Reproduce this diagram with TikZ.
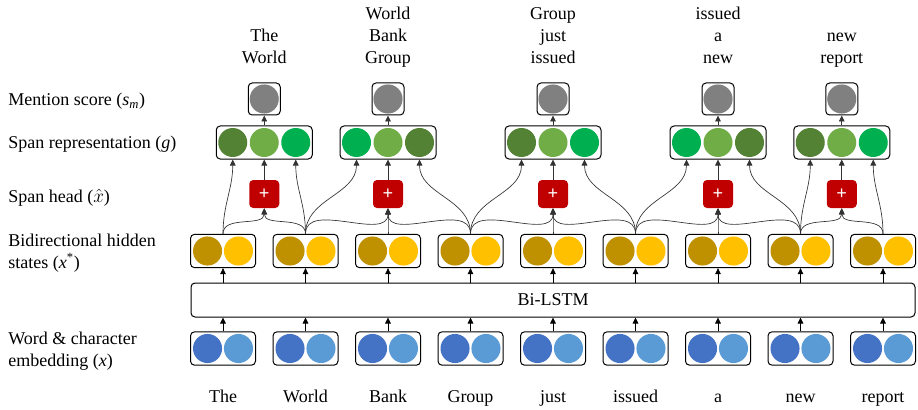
\documentclass[tikz,border=0pt]{standalone}
\usepackage{fontspec}
\setmainfont{Liberation Serif}
\usetikzlibrary{arrows.meta}
\definecolor{emb_dark}{RGB}{68,114,196}
\definecolor{emb_light}{RGB}{91,155,213}
\definecolor{hid_dark}{RGB}{191,144,0}
\definecolor{hid_light}{RGB}{255,192,0}
\definecolor{span_dark}{RGB}{84,130,53}
\definecolor{span_mid}{RGB}{112,173,71}
\definecolor{span_bright}{RGB}{0,176,80}
\definecolor{head_red}{RGB}{192,0,0}
\definecolor{score_gray}{RGB}{128,128,128}
\definecolor{edge_gray}{RGB}{50,50,50}

\begin{document}
\begin{tikzpicture}[x=0.75pt,y=-0.75pt,->,>={Triangle[length=4.5pt,width=4.2pt]},
    line width=0.5pt,font=\fontsize{13.5pt}{16.5pt}\selectfont]
    \tikzstyle{label}=[text=black,inner sep=0pt]
    \tikzstyle{box}=[draw,rounded corners=3pt,line width=0.75pt,inner sep=0pt,fill=white]
    \tikzstyle{pair}=[style=box,minimum width=48.75pt,minimum height=25pt]
    \tikzstyle{embpair}=[style=pair,path picture={
        \fill[emb_dark] ([xshift=-11.6pt]path picture bounding box.center) circle[radius=10.9pt];
        \fill[emb_light] ([xshift=11.6pt]path picture bounding box.center) circle[radius=10.9pt];}]
    \tikzstyle{hidpair}=[style=pair,path picture={
        \fill[hid_dark] ([xshift=-11.6pt]path picture bounding box.center) circle[radius=10.9pt];
        \fill[hid_light] ([xshift=11.6pt]path picture bounding box.center) circle[radius=10.9pt];}]
    \tikzstyle{spanbox}=[style=box,minimum width=72pt,minimum height=24.75pt]
    \tikzstyle{dot}=[circle,inner sep=0pt,minimum size=21.75pt]
    \tikzstyle{scorebox}=[style=box,minimum size=24pt,path picture={
        \fill[score_gray] (path picture bounding box.center) circle[radius=10.9pt];}]
    \tikzstyle{headbox}=[fill=head_red,rounded corners=3pt,minimum width=22.5pt,minimum height=21pt,
        inner sep=0pt,text=white,font=\fontsize{14pt}{16pt}\selectfont\bfseries]

    \useasboundingbox (0,0) rectangle (918,410);

    % left labels
    \node[label,anchor=base west] (lab_s) at (8,106) {Mention score (\textit{s}\textsubscript{\textit{m}})};
    \node[label,anchor=base west] (lab_g) at (8,148) {Span representation (\textit{g})};
    \node[label,anchor=base west] (lab_h) at (8,202) {Span head ($\hat{x}$)};
    \node[label,anchor=base west,align=left] (lab_x) at (8,268) {Bidirectional hidden\\states (\textit{x}\textsuperscript{*})};
    \node[label,anchor=base west,align=left] (lab_e) at (8,366) {Word \& character\\embedding (\textit{x})};

    % embeddings
    \node[embpair] (e1) at (223,348.5)   {};
    \node[embpair] (e2) at (305.5,348.5) {};
    \node[embpair] (e3) at (388,348.5)   {};
    \node[embpair] (e4) at (470.5,348.5) {};
    \node[embpair] (e5) at (553,348.5)   {};
    \node[embpair] (e6) at (635.5,348.5) {};
    \node[embpair] (e7) at (718,348.5)   {};
    \node[embpair] (e8) at (800.5,348.5) {};
    \node[embpair] (e9) at (883,348.5)   {};

    \node[box,minimum width=543pt,minimum height=25.5pt] (lstm) at (553,300) {Bi-LSTM};

    % hidden states
    \node[hidpair] (h1) at (223,251)   {};
    \node[hidpair] (h2) at (305.5,251) {};
    \node[hidpair] (h3) at (388,251)   {};
    \node[hidpair] (h4) at (470.5,251) {};
    \node[hidpair] (h5) at (553,251)   {};
    \node[hidpair] (h6) at (635.5,251) {};
    \node[hidpair] (h7) at (718,251)   {};
    \node[hidpair] (h8) at (800.5,251) {};
    \node[hidpair] (h9) at (883,251)   {};

    % words
    \node[label,anchor=base] (w1) at (223,402)   {The};
    \node[label,anchor=base] (w2) at (305.5,402) {World};
    \node[label,anchor=base] (w3) at (388,402)   {Bank};
    \node[label,anchor=base] (w4) at (470.5,402) {Group};
    \node[label,anchor=base] (w5) at (553,402)   {just};
    \node[label,anchor=base] (w6) at (635.5,402) {issued};
    \node[label,anchor=base] (w7) at (718,402)   {a};
    \node[label,anchor=base] (w8) at (800.5,402) {new};
    \node[label,anchor=base] (w9) at (883,402)   {report};

    % span heads
    \node[headbox] (p1) at (264.25,194) {+};
    \node[headbox] (p2) at (388,194)    {+};
    \node[headbox] (p3) at (553,194)    {+};
    \node[headbox] (p4) at (718,194)    {+};
    \node[headbox] (p5) at (841.75,194) {+};

    % span representations
    \node[spanbox] (g1) at (264.25,142.5) {};
    \node[dot,fill=span_dark]   (g1a) at (232.75,142.5) {};
    \node[dot,fill=span_mid]    (g1b) at (264.25,142.5) {};
    \node[dot,fill=span_bright] (g1c) at (295.75,142.5) {};
    \node[spanbox] (g2) at (388,142.5) {};
    \node[dot,fill=span_bright] (g2a) at (356.5,142.5) {};
    \node[dot,fill=span_mid]    (g2b) at (388,142.5)   {};
    \node[dot,fill=span_dark]   (g2c) at (419.5,142.5) {};
    \node[spanbox] (g3) at (553,142.5) {};
    \node[dot,fill=span_dark]   (g3a) at (521.5,142.5) {};
    \node[dot,fill=span_mid]    (g3b) at (553,142.5)   {};
    \node[dot,fill=span_bright] (g3c) at (584.5,142.5) {};
    \node[spanbox] (g4) at (718,142.5) {};
    \node[dot,fill=span_bright] (g4a) at (686.5,142.5) {};
    \node[dot,fill=span_mid]    (g4b) at (718,142.5)   {};
    \node[dot,fill=span_dark]   (g4c) at (749.5,142.5) {};
    \node[spanbox] (g5) at (841.75,142.5) {};
    \node[dot,fill=span_dark]   (g5a) at (810.25,142.5) {};
    \node[dot,fill=span_mid]    (g5b) at (841.75,142.5) {};
    \node[dot,fill=span_bright] (g5c) at (873.25,142.5) {};

    % mention scores
    \node[scorebox] (s1) at (264.25,99) {};
    \node[scorebox] (s2) at (388,99)    {};
    \node[scorebox] (s3) at (553,99)    {};
    \node[scorebox] (s4) at (718,99)    {};
    \node[scorebox] (s5) at (841.75,99) {};

    % span texts (base = last line)
    \node[label,anchor=base,align=center] (t1) at (264.25,64) {The\\World};
    \node[label,anchor=base,align=center] (t2) at (388,64)    {World\\Bank\\Group};
    \node[label,anchor=base,align=center] (t3) at (553,64)    {Group\\just\\issued};
    \node[label,anchor=base,align=center] (t4) at (718,64)    {issued\\a\\new};
    \node[label,anchor=base,align=center] (t5) at (841.75,64) {new\\report};

    % word -> lstm -> hidden
    \path[black]
     (e1) edge (e1.north |- lstm.south) (h1.south |- lstm.north) edge (h1)
     (e2) edge (e2.north |- lstm.south) (h2.south |- lstm.north) edge (h2)
     (e3) edge (e3.north |- lstm.south) (h3.south |- lstm.north) edge (h3)
     (e4) edge (e4.north |- lstm.south) (h4.south |- lstm.north) edge (h4)
     (e5) edge (e5.north |- lstm.south) (h5.south |- lstm.north) edge (h5)
     (e6) edge (e6.north |- lstm.south) (h6.south |- lstm.north) edge (h6)
     (e7) edge (e7.north |- lstm.south) (h7.south |- lstm.north) edge (h7)
     (e8) edge (e8.north |- lstm.south) (h8.south |- lstm.north) edge (h8)
     (e9) edge (e9.north |- lstm.south) (h9.south |- lstm.north) edge (h9);

    % hidden -> span heads
    \path[edge_gray,every edge/.style={draw,out=90,in=-90}]
     (h1.north) edge (p1.south)
     (h2.north) edge (p1.south)
     (h2.north) edge (p2.south)
     (h3.north) edge (p2.south)
     (h4.north) edge (p2.south)
     (h4.north) edge (p3.south)
     (h5.north) edge (p3.south)
     (h6.north) edge (p3.south)
     (h6.north) edge (p4.south)
     (h7.north) edge (p4.south)
     (h8.north) edge (p4.south)
     (h8.north) edge (p5.south)
     (h9.north) edge (p5.south);

    % hidden -> span ends
    \path[edge_gray,every edge/.style={draw,out=90,in=-90}]
     (h1.north) edge (g1a |- g1.south)
     (h2.north) edge (g1c |- g1.south)
     (h2.north) edge (g2a |- g2.south)
     (h4.north) edge (g2c |- g2.south)
     (h4.north) edge (g3a |- g3.south)
     (h6.north) edge (g3c |- g3.south)
     (h6.north) edge (g4a |- g4.south)
     (h8.north) edge (g4c |- g4.south)
     (h8.north) edge (g5a |- g5.south)
     (h9.north) edge (g5c |- g5.south);

    % heads -> spans -> scores
    \path[edge_gray]
     (p1) edge (g1) (g1) edge (s1)
     (p2) edge (g2) (g2) edge (s2)
     (p3) edge (g3) (g3) edge (s3)
     (p4) edge (g4) (g4) edge (s4)
     (p5) edge (g5) (g5) edge (s5);
\end{tikzpicture}
\end{document}
